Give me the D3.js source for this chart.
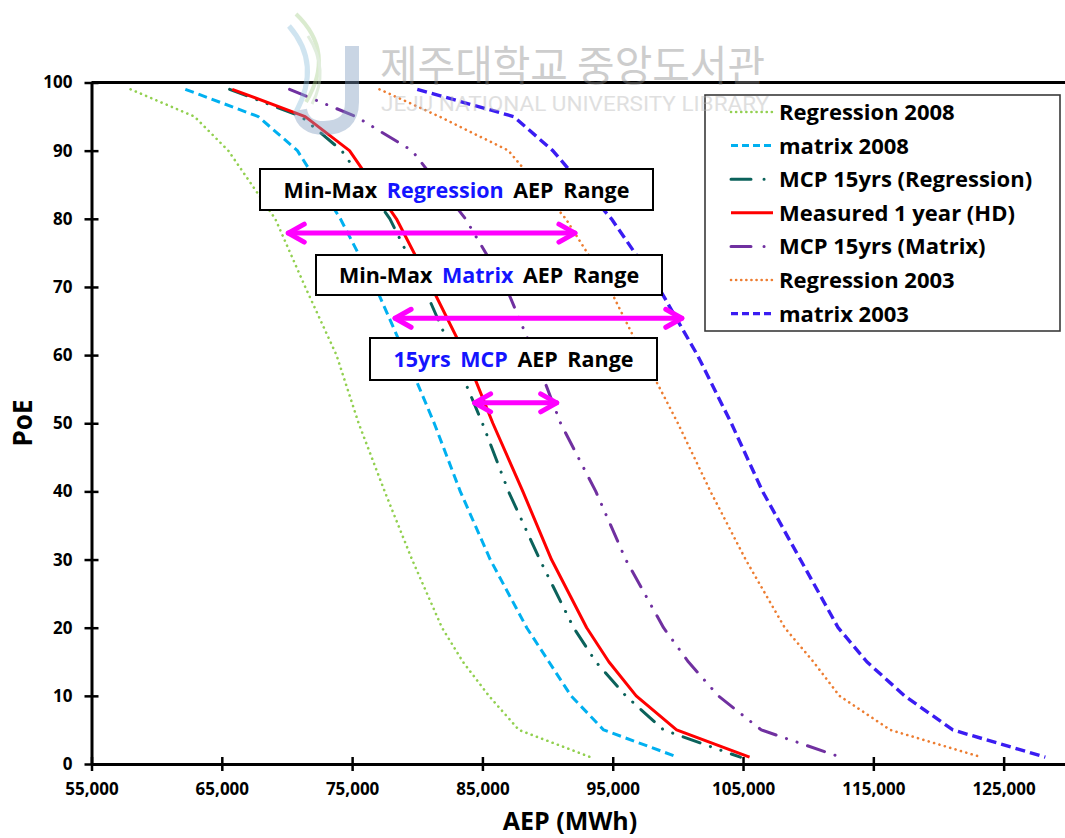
<!DOCTYPE html>
<html>
<head>
<meta charset="utf-8">
<script src="https://cdn.jsdelivr.net/npm/d3@7"></script>
<style>
  body { margin: 0; background: #fff; }
  svg { display: block; }
</style>
</head>
<body>
<svg id="chart" width="1065" height="838"></svg>
<script>
// Probability of exceedance levels (%) shared by every curve
const poe = [99, 95, 90, 80, 70, 60, 50, 40, 30, 20, 15, 10, 5, 1];

// Annual energy production (MWh) at each PoE level
const regression2008 = [58000, 62900, 65500, 69100, 71400, 73800, 75500, 77500, 79600, 81900, 83500, 85500, 87800, 93300];
const matrix2008     = [62200, 67800, 70800, 74100, 76800, 79100, 81300, 83300, 85600, 88400, 90100, 91800, 94300, 100000];
const mcpRegression  = [65600, 71100, 74200, 77900, 80500, 82800, 85000, 87000, 89400, 92000, 93700, 96000, 98900, 104800];
const measured1yr    = [65800, 71400, 74800, 78400, 81100, 83700, 85800, 88100, 90300, 93000, 94700, 96800, 99900, 105500];
const mcpMatrix      = [70200, 75300, 79600, 83700, 86800, 89000, 91000, 93700, 96000, 98900, 100800, 103100, 106400, 112500];
const regression2003 = [77100, 81700, 87000, 91400, 94700, 97300, 100000, 102500, 105200, 108200, 110400, 112400, 116300, 123300];
const matrix2003     = [80000, 87400, 90400, 94900, 98500, 101500, 104100, 106500, 109400, 112300, 114500, 117400, 121100, 128200];

const seriesNames = ["Regression 2008", "matrix 2008", "MCP 15yrs (Regression)", "Measured 1 year (HD)",
                     "MCP 15yrs (Matrix)", "Regression 2003", "matrix 2003"];
const seriesValues = [regression2008, matrix2008, mcpRegression, measured1yr, mcpMatrix, regression2003, matrix2003];

const xTicks = [55000, 65000, 75000, 85000, 95000, 105000, 115000, 125000];
const yTicks = [0, 10, 20, 30, 40, 50, 60, 70, 80, 90, 100];

// Range annotations: label pieces, PoE level and AEP span of each arrow
const rangeTitles = [
  [["Min-Max ", "k"], ["Regression", "b"], [" AEP Range", "k"]],
  [["Min-Max ", "k"], ["Matrix", "b"], [" AEP Range", "k"]],
  [["15yrs MCP", "b"], [" AEP Range", "k"]]
];
const rangePoe  = [77.9, 65.4, 53.0];
const rangeFrom = [70100, 78300, 84400];
const rangeTo   = [92100, 100300, 90700];

// ---- styling for each curve ----
const styles = [
  { color: "#92D050", width: 2.6, dash: "0.1 5.5", cap: "round" },
  { color: "#00B0F0", width: 3,   dash: "9 5",     cap: "butt" },
  { color: "#0B625B", width: 3,   dash: "18 11 0.1 11 0.1 11", cap: "round" },
  { color: "#FF0000", width: 3,   dash: null,      cap: "butt" },
  { color: "#7030A0", width: 3,   dash: "18 11 0.1 11 0.1 11", cap: "round" },
  { color: "#ED7D31", width: 2.6, dash: "0.1 5.5", cap: "round" },
  { color: "#3A1CF2", width: 3.4, dash: "10 5",    cap: "butt" }
];

const FONT = "'Open Sans', 'Noto Sans', sans-serif";
const svg = d3.select("#chart");

const x = d3.scaleLinear().domain([55000, 130000]).range([91.5, 1068.8]);
const y = d3.scaleLinear().domain([0, 100]).range([764, 82.5]);

// ---- plot frame ----
svg.append("line")
  .attr("x1", x(55000)).attr("x2", x(130000))
  .attr("y1", y(100)).attr("y2", y(100))
  .attr("stroke", "#000").attr("stroke-width", 3);

// ---- curves ----
const line = d3.line().x(d => x(d[0])).y(d => y(d[1]));
const curves = svg.append("g");
seriesValues.forEach((vals, i) => {
  const st = styles[i];
  curves.append("path")
    .datum(vals.map((v, j) => [v, poe[j]]))
    .attr("d", line)
    .attr("fill", "none")
    .attr("stroke", st.color)
    .attr("stroke-width", st.width)
    .attr("stroke-linecap", st.cap)
    .attr("stroke-linejoin", "round")
    .attr("stroke-dasharray", st.dash);
});

// ---- axes ----
const xAxis = svg.append("g")
  .attr("transform", `translate(0,${y(0)})`)
  .call(d3.axisBottom(x).tickValues(xTicks).tickFormat(d3.format(",")).tickSizeInner(0).tickSizeOuter(0).tickPadding(19));
xAxis.select(".domain").attr("stroke", "#000").attr("stroke-width", 3);
xAxis.selectAll(".tick line").attr("y1", -7).attr("y2", 7).attr("stroke", "#000").attr("stroke-width", 2.5);
xAxis.selectAll(".tick text")
  .attr("font-family", FONT).attr("font-size", 17).attr("font-weight", 700).attr("fill", "#000");

const yAxis = svg.append("g")
  .attr("transform", `translate(${x(55000)},0)`)
  .call(d3.axisLeft(y).tickValues(yTicks).tickFormat(d3.format("d")).tickSizeInner(0).tickSizeOuter(0).tickPadding(19));
yAxis.select(".domain").attr("stroke", "#000").attr("stroke-width", 3);
yAxis.selectAll(".tick line").attr("x1", -7).attr("x2", 7).attr("stroke", "#000").attr("stroke-width", 2.5);
yAxis.selectAll(".tick text")
  .attr("font-family", FONT).attr("font-size", 17).attr("font-weight", 700).attr("fill", "#000");

svg.append("text")
  .attr("x", 570).attr("y", 830)
  .attr("text-anchor", "middle")
  .attr("font-family", FONT).attr("font-size", 25).attr("font-weight", 700)
  .text("AEP (MWh)");

svg.append("text")
  .attr("transform", "translate(32,423) rotate(-90)")
  .attr("text-anchor", "middle")
  .attr("font-family", FONT).attr("font-size", 26).attr("font-weight", 700)
  .text("PoE");

// ---- range annotation boxes ----
const boxes = [
  { x0: 260, y0: 169, x1: 653, y1: 210 },
  { x0: 316, y0: 255, x1: 662, y1: 295 },
  { x0: 370, y0: 338, x1: 657, y1: 380 }
];
const labelColor = { k: "#000", b: "#1414FF" };
boxes.forEach((b, i) => {
  svg.append("rect")
    .attr("x", b.x0).attr("y", b.y0)
    .attr("width", b.x1 - b.x0).attr("height", b.y1 - b.y0)
    .attr("fill", "#fff").attr("stroke", "#000").attr("stroke-width", 2);
  const t = svg.append("text")
    .attr("x", (b.x0 + b.x1) / 2).attr("y", (b.y0 + b.y1) / 2 + 8)
    .attr("text-anchor", "middle")
    .attr("font-family", FONT).attr("font-size", 21.5).attr("font-weight", 700)
    .attr("word-spacing", 4)
    .attr("xml:space", "preserve");
  rangeTitles[i].forEach(([s, c]) => t.append("tspan").attr("fill", labelColor[c]).text(s));
});

// ---- double-headed range arrows ----
const arrows = svg.append("g")
  .attr("stroke", "#FF00FF").attr("stroke-width", 5)
  .attr("stroke-linecap", "round").attr("stroke-linejoin", "round").attr("fill", "none");
rangePoe.forEach((p, i) => {
  const yy = y(p), xa = x(rangeFrom[i]), xb = x(rangeTo[i]);
  arrows.append("path").attr("d", `M${xa},${yy}L${xb},${yy}`);
  arrows.append("path").attr("d", `M${xa + 16},${yy - 9}L${xa},${yy}L${xa + 16},${yy + 9}`);
  arrows.append("path").attr("d", `M${xb - 16},${yy - 9}L${xb},${yy}L${xb - 16},${yy + 9}`);
});

// ---- legend ----
const legend = svg.append("g");
legend.append("rect")
  .attr("x", 705).attr("y", 95).attr("width", 355).attr("height", 236)
  .attr("fill", "#fff").attr("stroke", "#3a3a3a").attr("stroke-width", 1.6);
const legendDash = ["0.1 5", "7 4", "20 13 0.1 10", null, "20 13 0.1 10", "0.1 5", "7 4"];
seriesNames.forEach((name, i) => {
  const ly = 112 + i * 33.6;
  const st = styles[i];
  legend.append("line")
    .attr("x1", 731).attr("x2", 773).attr("y1", ly).attr("y2", ly)
    .attr("stroke", st.color).attr("stroke-width", st.width)
    .attr("stroke-linecap", st.cap)
    .attr("stroke-dasharray", legendDash[i]);
  legend.append("text")
    .attr("x", 779).attr("y", ly + 8)
    .attr("font-family", FONT).attr("font-size", 22).attr("font-weight", 700)
    .attr("fill", "#000")
    .text(name);
});

// ---- library watermark ----
const wm = svg.append("g").attr("opacity", 0.42).attr("pointer-events", "none");
wm.append("path")
  .attr("d", "M296,14 Q336,52 306,102")
  .attr("fill", "none").attr("stroke", "#a9d08e").attr("stroke-width", 4);
wm.append("path")
  .attr("d", "M289,26 Q322,64 296,112")
  .attr("fill", "none").attr("stroke", "#8fbfdc").attr("stroke-width", 5);
wm.append("path")
  .attr("d", "M308,36 Q330,70 312,104")
  .attr("fill", "none").attr("stroke", "#b8d6b0").attr("stroke-width", 3);
wm.append("path")
  .attr("d", "M352,46 L352,102 Q352,128 324,128 Q303,128 300,110")
  .attr("fill", "none").attr("stroke", "#7f9cc0").attr("stroke-width", 14);
wm.append("text")
  .attr("x", 380).attr("y", 81)
  .attr("font-family", "'Noto Sans CJK KR', sans-serif").attr("font-size", 42)
  .attr("textLength", 385).attr("lengthAdjust", "spacingAndGlyphs")
  .attr("fill", "#8a8a8a")
  .text("제주대학교 중앙도서관");
wm.append("text")
  .attr("x", 381).attr("y", 111)
  .attr("font-family", "'Liberation Sans Narrow', 'Roboto', sans-serif").attr("font-size", 21)
  .attr("textLength", 388).attr("lengthAdjust", "spacingAndGlyphs")
  .attr("fill", "#b4b4b4")
  .text("JEJU NATIONAL UNIVERSITY  LIBRARY");
</script>
</body>
</html>
